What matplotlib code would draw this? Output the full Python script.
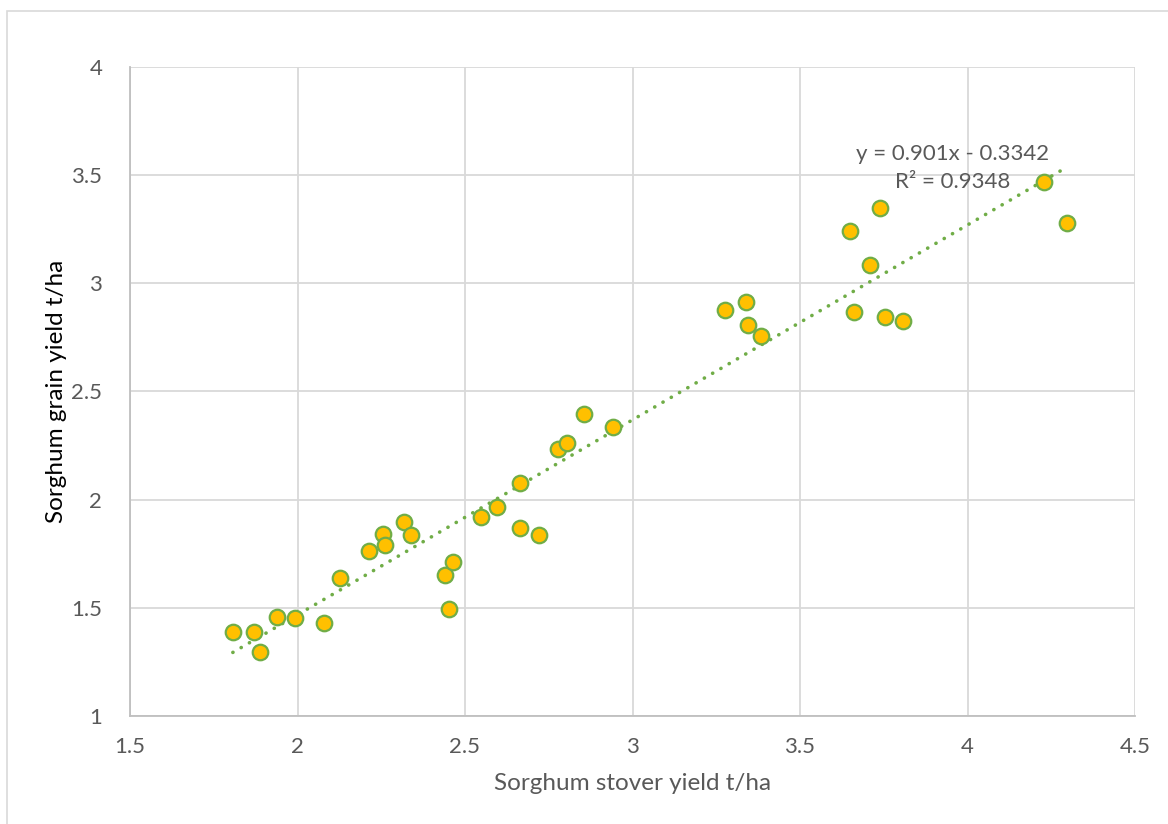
import matplotlib.pyplot as plt
import numpy as np
from matplotlib.patches import Rectangle

# stover vs grain yield per plot (t/ha)
stover = [1.807, 1.870, 1.888, 1.939, 1.993, 2.079, 2.127, 2.213, 2.255, 2.261,
          2.318, 2.339, 2.440, 2.452, 2.464, 2.548, 2.596, 2.664, 2.664, 2.721,
          2.778, 2.804, 2.855, 2.942, 3.276, 3.339, 3.345, 3.384, 3.649, 3.739,
          3.709, 3.661, 3.754, 3.807, 4.228, 4.297]
grain = [1.388, 1.388, 1.296, 1.458, 1.453, 1.430, 1.638, 1.763, 1.841, 1.791,
         1.897, 1.837, 1.652, 1.495, 1.712, 1.920, 1.966, 2.077, 1.869, 1.837,
         2.234, 2.262, 2.396, 2.336, 2.877, 2.914, 2.808, 2.757, 3.242, 3.349,
         3.085, 2.868, 2.845, 2.826, 3.469, 3.279]

# linear trend as reported
slope = 0.901
intercept = -0.3342
r2 = 0.9348

plt.rcParams['font.family'] = ['Lato', 'DejaVu Sans']
grey = '#595959'
green = '#70AD47'
gold = '#FFC000'

fig = plt.figure(figsize=(11.68, 8.24), dpi=100)
ax = fig.add_axes([130 / 1168, 1 - 716 / 824, 1005 / 1168, 649 / 824])

# chart area border
fig.patches.append(Rectangle((7 / 1168, -0.1), 1.2, 1 - 11 / 824 + 0.1,
                             transform=fig.transFigure, fill=False,
                             edgecolor='#D9D9D9', lw=1.2))

xs = np.array([min(stover), max(stover)])
ax.plot(xs, slope * xs + intercept, color=green, lw=2.6,
        linestyle=(0, (0.05, 2.6)), dash_capstyle='round', zorder=3)

ax.scatter(stover, grain, s=125, facecolor=gold, edgecolor=green,
           linewidth=1.6, zorder=4)

ax.set_xlim(1.5, 4.5)
ax.set_ylim(1, 4)
ax.set_xticks(np.arange(1.5, 4.51, 0.5))
ax.set_yticks(np.arange(1, 4.01, 0.5))
ax.set_xticklabels(['1.5', '2', '2.5', '3', '3.5', '4', '4.5'])
ax.set_yticklabels(['1', '1.5', '2', '2.5', '3', '3.5', '4'])
ax.grid(True, color='#D9D9D9', lw=1.3)
ax.set_axisbelow(True)
for side in ['top', 'right']:
    ax.spines[side].set_visible(False)
for side in ['left', 'bottom']:
    ax.spines[side].set_color('#BFBFBF')
    ax.spines[side].set_linewidth(1.3)
ax.tick_params(length=0, labelsize=16, labelcolor=grey)
ax.tick_params(axis='x', pad=15)
ax.tick_params(axis='y', pad=20)

ax.set_xlabel('Sorghum stover yield t/ha', fontsize=17.5, color=grey, labelpad=12)
ax.set_ylabel('Sorghum grain yield t/ha', fontsize=17.5, color='#000000', labelpad=3)

ax.text(3.955, 3.598, f'y = {slope}x - {abs(intercept)}', fontsize=16,
        color=grey, ha='center', va='center')
ax.text(3.955, 3.47, f'R² = {r2}', fontsize=16,
        color=grey, ha='center', va='center')

fig.savefig('out.png', dpi=100)
